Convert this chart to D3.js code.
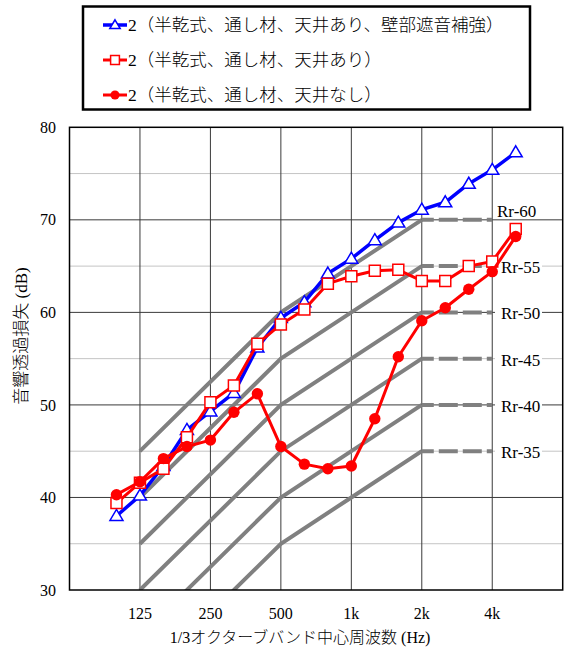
<!DOCTYPE html>
<html>
<head>
<meta charset="utf-8">
<script src="https://cdn.jsdelivr.net/npm/d3@7"></script>
<style>
  body { margin: 0; background: #fff; }
  svg { display: block; }
</style>
</head>
<body>
<div id="app"></div>
<script>
// 1/3オクターブバンド中心周波数 (Hz)
const bands = [100, 125, 160, 200, 250, 315, 400, 500, 630, 800, 1000, 1250, 1600, 2000, 2500, 3150, 4000, 5000];

const seriesNames = [
  "2（半乾式、通し材、天井あり、壁部遮音補強）",
  "2（半乾式、通し材、天井あり）",
  "2（半乾式、通し材、天井なし）"
];
const wallReinforced = [38.0, 40.2, 43.4, 47.3, 49.3, 51.3, 56.2, 59.4, 61.1, 64.2, 65.8, 67.8, 69.7, 71.1, 71.9, 73.9, 75.4, 77.3];
const ceilingOn      = [39.4, 41.6, 43.1, 46.5, 50.3, 52.1, 56.6, 58.7, 60.3, 63.1, 63.9, 64.5, 64.6, 63.4, 63.4, 65.0, 65.5, 69.0];
const ceilingOff     = [40.3, 41.7, 44.2, 45.5, 46.2, 49.2, 51.2, 45.5, 43.6, 43.1, 43.4, 48.5, 55.2, 59.1, 60.5, 62.5, 64.4, 68.2];

const xTicks = [125, 250, 500, 1000, 2000, 4000];
const xTickLabels = ["125", "250", "500", "1k", "2k", "4k"];
const yTicks = [30, 40, 50, 60, 70, 80];
const yMinor = [35, 45, 55, 65, 75];

// Rr curves: value relative to the 500 Hz level
const rrLevels = [60, 55, 50, 45, 40, 35];
const rrFreqs = [125, 500, 1000, 2000];
const rrOffsets = [-15, 0, 5, 10];
const rrFlatFreqs = [2000, 4000];

const width = 565;
const height = 648;
const plotLeft = 69.5, plotRight = 562.7, plotTop = 127.3, plotBottom = 590;

const serif = '"Liberation Serif", "Noto Sans CJK JP", serif';

const svg = d3.select('#app')
  .append('svg')
  .attr('width', width)
  .attr('height', height)
  .style('font-family', serif);

// 公称周波数 -> 正確な1/3オクターブ位置
const exact = f => 1000 * Math.pow(2, Math.round(3 * Math.log2(f / 1000)) / 3);

const xScale = d3.scaleLog()
  .domain([62.5, 8000])
  .range([plotLeft, plotRight]);

const yScale = d3.scaleLinear()
  .domain([30, 80])
  .range([plotBottom, plotTop]);

svg.append('clipPath').attr('id', 'plot')
  .append('rect')
  .attr('x', plotLeft).attr('y', plotTop)
  .attr('width', plotRight - plotLeft).attr('height', plotBottom - plotTop);

/* grid */
const grid = svg.append('g');
grid.selectAll('.minor')
  .data(yMinor)
  .enter().append('line')
  .attr('x1', plotLeft).attr('x2', plotRight)
  .attr('y1', d => yScale(d)).attr('y2', d => yScale(d))
  .attr('stroke', '#c4c4c4').attr('stroke-width', 1);
grid.selectAll('.major')
  .data(yTicks.slice(1, -1))
  .enter().append('line')
  .attr('x1', plotLeft).attr('x2', plotRight)
  .attr('y1', d => yScale(d)).attr('y2', d => yScale(d))
  .attr('stroke', '#3a3a3a').attr('stroke-width', 1);
grid.selectAll('.vert')
  .data(xTicks)
  .enter().append('line')
  .attr('x1', d => xScale(d)).attr('x2', d => xScale(d))
  .attr('y1', plotTop).attr('y2', plotBottom)
  .attr('stroke', '#3a3a3a').attr('stroke-width', 1);

/* Rr curves */
const rrG = svg.append('g').attr('clip-path', 'url(#plot)');
const rrLine = d3.line().x(d => xScale(d[0])).y(d => yScale(d[1]));
rrLevels.forEach(lv => {
  rrG.append('path')
    .attr('d', rrLine(rrFreqs.map((f, i) => [f, lv + rrOffsets[i]])))
    .attr('fill', 'none')
    .attr('stroke', '#808080')
    .attr('stroke-width', 4);
  rrG.append('path')
    .attr('d', rrLine(rrFlatFreqs.map(f => [f, lv + 10])))
    .attr('fill', 'none')
    .attr('stroke', '#808080')
    .attr('stroke-width', 4)
    .attr('stroke-dasharray', '19,5')
    .attr('stroke-dashoffset', 7);
});

/* Rr labels */
rrLevels.forEach((lv, i) => {
  const first = i === 0;
  const ty = yScale(lv + 10) + (first ? -9 : 1);
  const tx = first ? 497 : 501;
  if (!first) {
    svg.append('rect')
      .attr('x', 495).attr('y', ty - 9)
      .attr('width', 47).attr('height', 18)
      .attr('fill', '#fff');
  }
  svg.append('text')
    .attr('x', tx).attr('y', ty)
    .attr('dy', '0.35em')
    .attr('font-size', 17)
    .text('Rr-' + lv);
});

/* frame */
svg.append('rect')
  .attr('x', plotLeft).attr('y', plotTop)
  .attr('width', plotRight - plotLeft).attr('height', plotBottom - plotTop)
  .attr('fill', 'none')
  .attr('stroke', '#000')
  .attr('stroke-width', 1.5);

/* axes labels */
svg.append('g')
  .selectAll('text')
  .data(yTicks)
  .enter().append('text')
  .attr('x', 56)
  .attr('y', d => yScale(d))
  .attr('dy', '0.35em')
  .attr('text-anchor', 'end')
  .attr('font-size', 16)
  .text(d => d);

svg.append('g')
  .selectAll('text')
  .data(xTicks)
  .enter().append('text')
  .attr('x', d => xScale(d))
  .attr('y', 613)
  .attr('dy', '0.35em')
  .attr('text-anchor', 'middle')
  .attr('font-size', 16)
  .text((d, i) => xTickLabels[i]);

svg.append('text')
  .attr('x', xScale(Math.sqrt(500 * 1000)) - 16)
  .attr('y', 637)
  .attr('dy', '0.35em')
  .attr('text-anchor', 'middle')
  .attr('font-size', 16)
  .attr('font-weight', 300)
  .text('1/3オクターブバンド中心周波数 (Hz)');

svg.append('text')
  .attr('transform', 'translate(21, 336) rotate(-90)')
  .attr('dy', '0.35em')
  .attr('text-anchor', 'middle')
  .attr('font-size', 17)
  .attr('font-weight', 300)
  .text('音響透過損失 (dB)');

/* series */
const triangle = 'M0,-6.5L6.5,4.5L-6.5,4.5Z';
const square = 'M-5.5,-5.5H5.5V5.5H-5.5Z';
const series = [
  { values: wallReinforced, color: '#0000ff', lw: 3.5, shape: triangle, fill: '#fff' },
  { values: ceilingOn, color: '#ff0000', lw: 3, shape: square, fill: '#fff' },
  { values: ceilingOff, color: '#ff0000', lw: 3, shape: 'circle', fill: '#ff0000' }
];

const line = d3.line()
  .x((d, i) => xScale(exact(bands[i])))
  .y(d => yScale(d));

function marker(g, s, x, y, scale) {
  if (s.shape === 'circle') {
    g.append('circle')
      .attr('cx', x).attr('cy', y).attr('r', 5.7 * scale)
      .attr('fill', s.fill);
  } else {
    g.append('path')
      .attr('d', s.shape)
      .attr('transform', `translate(${x},${y}) scale(${scale})`)
      .attr('fill', s.fill)
      .attr('stroke', s.color)
      .attr('stroke-width', 1.5 / scale);
  }
}

series.forEach(s => {
  const g = svg.append('g');
  g.append('path')
    .attr('d', line(s.values))
    .attr('fill', 'none')
    .attr('stroke', s.color)
    .attr('stroke-width', s.lw)
    .attr('stroke-linejoin', 'round');
  s.values.forEach((v, i) => marker(g, s, xScale(exact(bands[i])), yScale(v), 1));
});

/* legend */
const legend = svg.append('g');
legend.append('rect')
  .attr('x', 83).attr('y', 6.5)
  .attr('width', 447).attr('height', 103)
  .attr('fill', '#fff')
  .attr('stroke', '#000')
  .attr('stroke-width', 2.5);

series.forEach((s, i) => {
  const y = 25 + i * 35;
  legend.append('line')
    .attr('x1', 103).attr('x2', 127)
    .attr('y1', y).attr('y2', y)
    .attr('stroke', s.color)
    .attr('stroke-width', s.lw);
  marker(legend, s, 115, y, 0.8);
  legend.append('text')
    .attr('x', 128).attr('y', y)
    .attr('dy', '0.35em')
    .attr('font-size', 17.5)
    .attr('font-weight', 300)
    .text(seriesNames[i]);
});
</script>
</body>
</html>
